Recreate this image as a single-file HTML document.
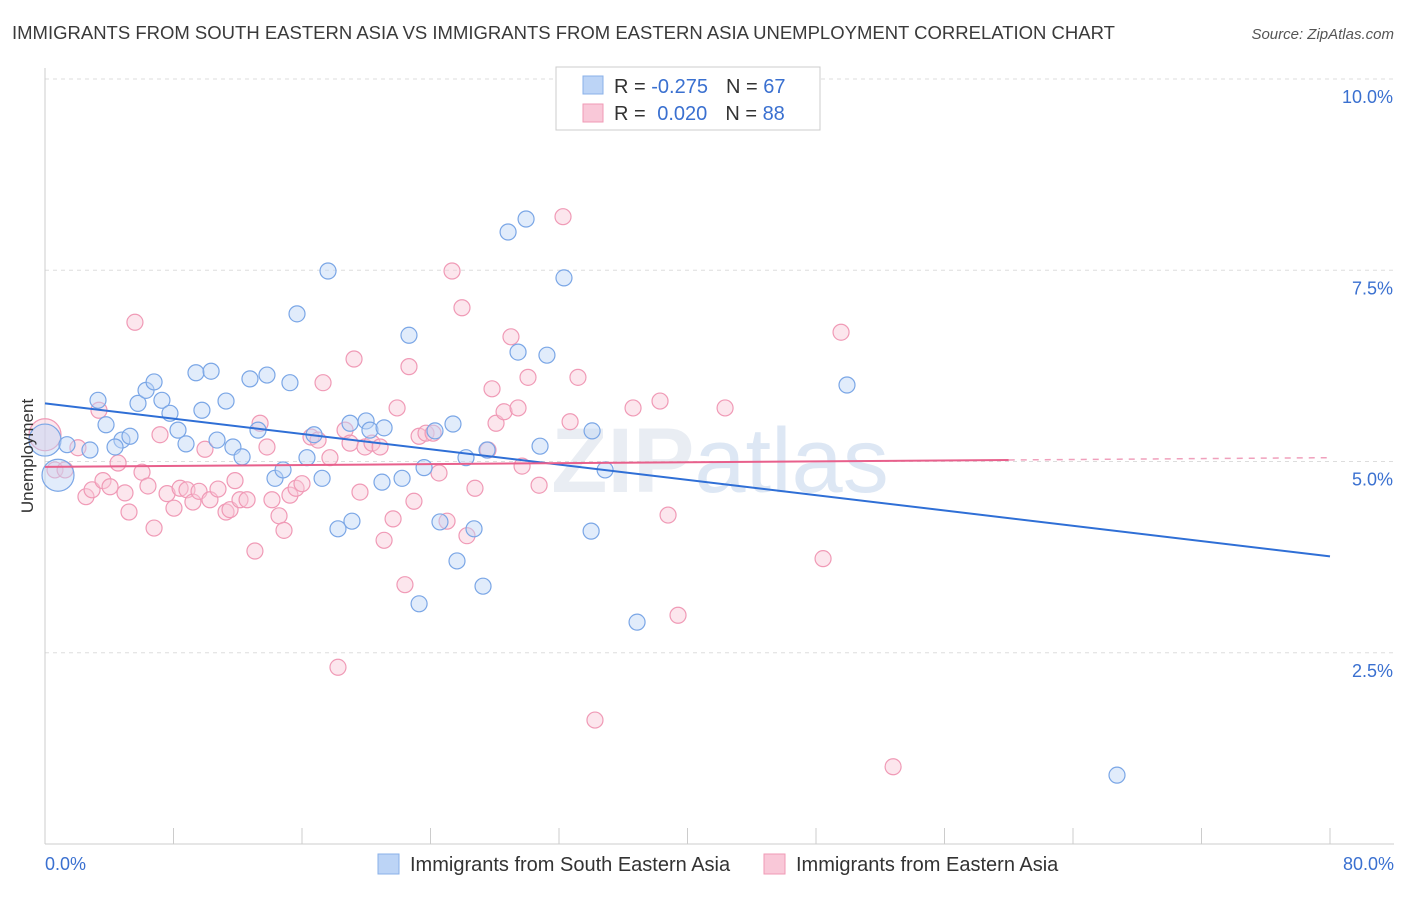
<!DOCTYPE html>
<html><head><meta charset="utf-8"><style>
body{margin:0;background:#fff;font-family:"Liberation Sans",sans-serif}
svg text{font-family:"Liberation Sans",sans-serif}
</style></head><body>
<svg id="chart" width="1406" height="892">
<text x="12" y="39" font-size="18.5" fill="#3a3a3a">IMMIGRANTS FROM SOUTH EASTERN ASIA VS IMMIGRANTS FROM EASTERN ASIA UNEMPLOYMENT CORRELATION CHART</text>
<text x="1394" y="39" font-size="15" fill="#555" font-style="italic" text-anchor="end">Source: ZipAtlas.com</text>
<text x="720" y="492" font-size="92" fill="#e9edf3" text-anchor="middle" font-weight="bold">ZIP<tspan font-weight="normal" fill="#dde7f4">atlas</tspan></text>
<g id="grid"></g><g id="axes"></g><g id="pts"></g><g id="lines"></g>
<text transform="translate(33,456) rotate(-90)" font-size="17" fill="#333" text-anchor="middle">Unemployment</text>
<g>
<rect x="556" y="67" width="264" height="63" fill="#fff" stroke="#ccc"/>
<rect x="583" y="76" width="20" height="18" fill="#bcd4f6" stroke="#8ab0e8"/>
<rect x="583" y="104" width="20" height="18" fill="#f9c8d8" stroke="#f09ab6"/>
<text x="614" y="93" font-size="20" fill="#333">R = <tspan fill="#3a70d0">-0.275</tspan><tspan dx="18">N = </tspan><tspan fill="#3a70d0">67</tspan></text>
<text x="614" y="120" font-size="20" fill="#333">R = <tspan fill="#3a70d0" dx="6">0.020</tspan><tspan dx="18">N = </tspan><tspan fill="#3a70d0">88</tspan></text>
</g>
<g>
<rect x="378" y="854" width="21" height="20" fill="#bcd4f6" stroke="#8ab0e8"/>
<text x="410" y="871" font-size="20" fill="#333">Immigrants from South Eastern Asia</text>
<rect x="764" y="854" width="21" height="20" fill="#f9c8d8" stroke="#f09ab6"/>
<text x="796" y="871" font-size="20" fill="#333">Immigrants from Eastern Asia</text>
</g>
</svg>
<script>
const blueX=[0.81,0,3.30,1.37,2.80,3.80,4.79,5.29,4.36,5.79,6.29,6.79,7.28,7.78,8.28,8.78,9.40,9.77,10.34,10.71,11.27,11.70,12.27,12.76,13.26,13.82,14.32,14.82,15.25,15.69,16.31,16.75,17.25,17.62,18.24,18.99,19.11,19.99,20.23,20.98,21.11,22.23,22.66,23.29,23.60,24.28,24.59,25.40,25.65,26.21,26.71,27.27,27.52,28.83,29.45,29.95,30.82,31.25,32.31,34.06,34.00,34.87,36.86,49.93,66.74];
const blueY=[4.82,5.28,5.80,5.22,5.15,5.48,5.28,5.33,5.19,5.76,5.93,6.04,5.80,5.63,5.41,5.23,6.16,5.67,6.18,5.28,5.79,5.19,5.06,6.08,5.41,6.13,4.78,4.89,6.03,6.93,5.05,5.35,4.78,7.49,4.12,5.50,4.22,5.53,5.41,4.73,5.44,4.78,6.65,3.14,4.92,5.40,4.21,5.49,3.70,5.05,4.12,3.37,5.15,8.00,6.43,8.17,5.20,6.39,7.40,5.40,4.09,4.89,2.90,6.00,0.90];
const pinkX=[0,0.62,1.25,2.05,2.55,2.93,3.36,3.61,4.05,4.55,4.98,5.23,5.60,6.04,6.41,6.79,7.16,7.60,8.03,8.41,8.84,9.21,9.59,9.96,10.27,10.77,11.27,11.52,11.83,12.14,12.58,13.07,13.39,13.82,14.13,14.57,14.88,15.25,15.63,16.00,16.56,17.00,17.31,17.74,18.24,18.68,18.99,19.24,19.61,19.92,20.36,20.86,21.11,21.67,21.92,22.41,22.66,22.97,23.29,23.72,24.16,24.53,25.03,25.34,25.96,26.27,26.77,27.58,27.83,28.08,28.58,29.01,29.45,29.70,30.07,30.76,32.25,32.69,33.18,34.24,36.61,38.29,38.79,39.41,42.34,48.44,49.56,52.80];
const pinkY=[5.35,4.89,4.89,5.18,4.54,4.63,5.67,4.75,4.67,4.98,4.59,4.34,6.82,4.86,4.68,4.13,5.35,4.58,4.39,4.65,4.63,4.47,4.61,5.16,4.50,4.64,4.34,4.37,4.75,4.50,4.50,3.83,5.50,5.19,4.50,4.29,4.10,4.56,4.65,4.71,5.32,5.28,6.03,5.05,2.31,5.41,5.24,6.34,4.60,5.19,5.24,5.19,3.97,4.25,5.70,3.39,6.24,4.48,5.33,5.37,5.37,4.85,4.22,7.49,7.01,4.03,4.65,5.15,5.95,5.50,5.65,6.63,5.70,4.94,6.10,4.69,8.20,5.52,6.10,1.62,5.70,5.79,4.30,2.99,5.70,3.73,6.69,1.01];
const yTicks=[2.5,5.0,7.5,10.0];
const blueTrend=[5.76,3.76];
const pinkTrend=[4.93,5.02,5.05];
const pinkTrendX=[0,60,80];
const xs=v=>45+v/80*1285, ys=v=>844-v*76.5;
const NS="http://www.w3.org/2000/svg";
function mk(tag,attrs,parent){const e=document.createElementNS(NS,tag);for(const k in attrs)e.setAttribute(k,attrs[k]);document.getElementById(parent).appendChild(e);return e;}
yTicks.forEach(t=>{
 const l=mk('line',{x1:45,x2:1394,y1:ys(t),y2:ys(t),stroke:'#ddd','stroke-dasharray':'4,4'},'grid');
 
 
 const tx=mk('text',{x:1393,y:ys(t)+24,'font-size':18,fill:'#3a70d0','text-anchor':'end'},'grid');
 tx.textContent=t.toFixed(1)+'%';
 
 
});
mk('line',{x1:45,x2:45,y1:68,y2:844,stroke:'#ccc'},'axes');
mk('line',{x1:45,x2:1394,y1:844,y2:844,stroke:'#ccc'},'axes');
for(let i=0;i<=10;i++){const x=xs(i*8);mk('line',{x1:x,x2:x,y1:828,y2:844,stroke:'#ccc'},'axes');}
const x0=mk('text',{x:45,y:870,'font-size':18,fill:'#3a70d0'},'axes');x0.textContent='0.0%';


const x1=mk('text',{x:1394,y:870,'font-size':18,fill:'#3a70d0','text-anchor':'end'},'axes');x1.textContent='80.0%';


function dots(X,Y,fill,stroke,name){X.forEach((v,i)=>{
 const r=(i<2&&name==='blue-point')||(i===0&&name==='pink-point')?16:8;
 const c=mk('circle',{cx:xs(v),cy:ys(Y[i]),r:r,fill:fill,'fill-opacity':0.45,stroke:stroke,'stroke-width':1.2},'pts');
 
 
});}
dots(pinkX,pinkY,'#f9c8d8','#f09ab6','pink-point');
dots(blueX,blueY,'#bcd4f6','#7aa6e6','blue-point');
const bl=mk('line',{x1:xs(0),y1:ys(blueTrend[0]),x2:xs(80),y2:ys(blueTrend[1]),stroke:'#2f6fd6','stroke-width':2},'lines');


const pl=mk('line',{x1:xs(pinkTrendX[0]),y1:ys(pinkTrend[0]),x2:xs(pinkTrendX[1]),y2:ys(pinkTrend[1]),stroke:'#e8608c','stroke-width':2},'lines');


const pd=mk('line',{x1:xs(pinkTrendX[1]),y1:ys(pinkTrend[1]),x2:xs(pinkTrendX[2]),y2:ys(pinkTrend[2]),stroke:'#f0a0bc','stroke-width':1.5,'stroke-dasharray':'6,6'},'lines');


</script>
</body></html>
